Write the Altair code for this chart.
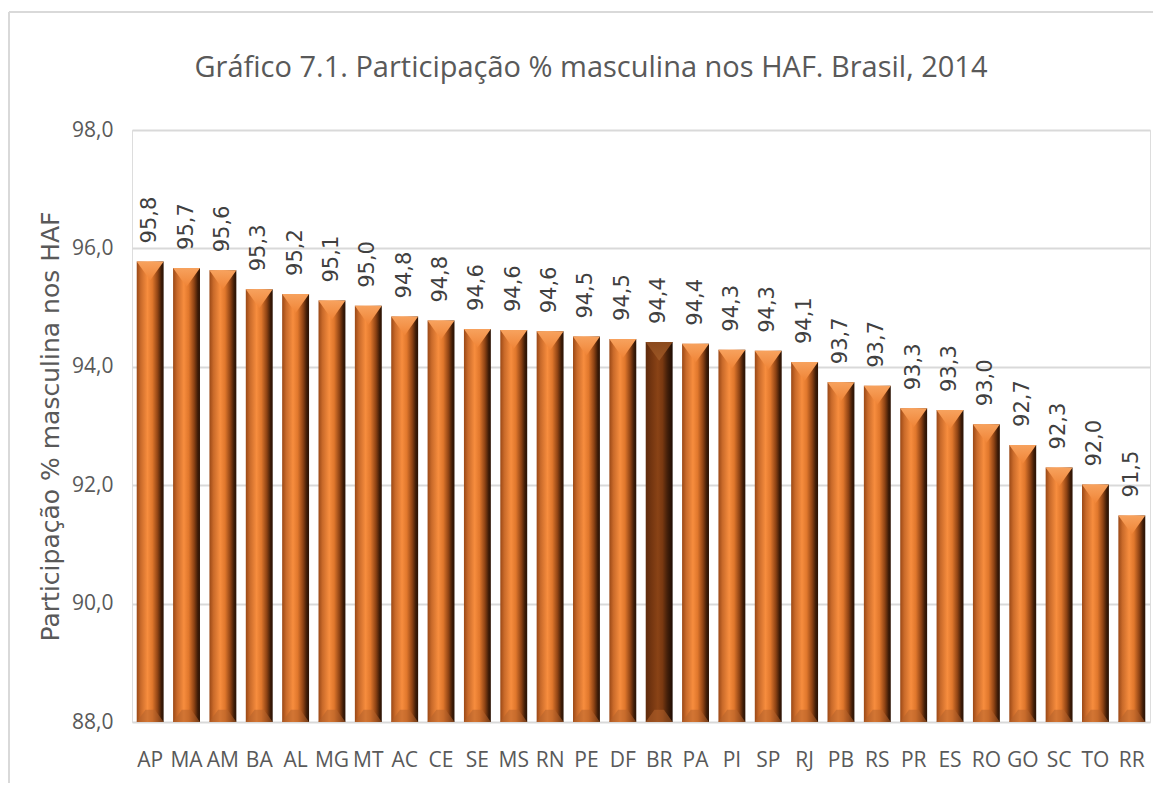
import altair as alt
import pandas as pd

states = ["AP", "MA", "AM", "BA", "AL", "MG", "MT", "AC", "CE", "SE", "MS", "RN", "PE", "DF",
          "BR", "PA", "PI", "SP", "RJ", "PB", "RS", "PR", "ES", "RO", "GO", "SC", "TO", "RR"]
values = [95.78, 95.67, 95.63, 95.31, 95.23, 95.12, 95.03, 94.85, 94.78, 94.64, 94.62, 94.60, 94.51, 94.47,
          94.42, 94.39, 94.29, 94.27, 94.08, 93.74, 93.68, 93.30, 93.27, 93.03, 92.68, 92.30, 92.01, 91.49]
y_ticks = [88, 90, 92, 94, 96, 98]

df = pd.DataFrame({"uf": states, "v": values})
df["base"] = 88.0
df["br"] = df["uf"] == "BR"

title_text = "Gráfico 7.1. Participação % masculina nos HAF. Brasil, 2014"
HUMAN = "Open Sans, Noto Sans, sans-serif"
WIDE = "DejaVu Sans, Verdana, sans-serif"
GREY = "#595959"

grad_norm = alt.Gradient(
    gradient="linear", x1=0, x2=1, y1=0, y2=0,
    stops=[
        alt.GradientStop(offset=0, color="#9a4816"),
        alt.GradientStop(offset=0.15, color="#c96a2a"),
        alt.GradientStop(offset=0.4, color="#f78d3e"),
        alt.GradientStop(offset=0.58, color="#e0772c"),
        alt.GradientStop(offset=0.78, color="#8e4314"),
        alt.GradientStop(offset=0.92, color="#3c1b07"),
        alt.GradientStop(offset=1, color="#2a1204"),
    ],
)
grad_br = alt.Gradient(
    gradient="linear", x1=0, x2=1, y1=0, y2=0,
    stops=[
        alt.GradientStop(offset=0, color="#5e2a0b"),
        alt.GradientStop(offset=0.2, color="#733510"),
        alt.GradientStop(offset=0.45, color="#8a4316"),
        alt.GradientStop(offset=0.62, color="#7a3911"),
        alt.GradientStop(offset=0.8, color="#45200a"),
        alt.GradientStop(offset=1, color="#1c0b03"),
    ],
)
tri_norm = alt.Gradient(
    gradient="linear", x1=0, x2=0, y1=0, y2=1,
    stops=[alt.GradientStop(offset=0, color="#f7a25e"), alt.GradientStop(offset=1, color="#f08436")],
)
tri_br = alt.Gradient(
    gradient="linear", x1=0, x2=0, y1=0, y2=1,
    stops=[alt.GradientStop(offset=0, color="#8a4a1e"), alt.GradientStop(offset=1, color="#9c5624")],
)

x_enc = alt.X("uf:N", sort=states, scale=alt.Scale(domain=states, paddingInner=0.26, paddingOuter=0.13),
              axis=alt.Axis(title=None, labelAngle=0, labelFont=HUMAN, labelFontSize=21,
                            labelColor=GREY, labelPadding=27, ticks=False, domain=False))
y_enc = alt.Y("v:Q", scale=alt.Scale(domain=[88, 98], zero=False, nice=False, clamp=True),
              axis=alt.Axis(values=y_ticks, title="Participação % masculina nos HAF",
                            titleFont=WIDE, titleFontSize=25, titleFontWeight="normal", titleColor=GREY,
                            titlePadding=8,
                            labelExpr="replace(format(datum.value, '.1f'), '.', ',')",
                            labelFont=HUMAN, labelFontSize=21, labelColor=GREY, labelPadding=19,
                            ticks=False, domain=False, grid=True, gridColor="#d9d9d9", gridWidth=2))

base = alt.Chart(df)

bars_n = base.transform_filter("!datum.br").mark_bar(color=grad_norm).encode(
    x=x_enc, y=y_enc, y2="base:Q")
bars_b = base.transform_filter("datum.br").mark_bar(color=grad_br).encode(
    x="uf:N", y="v:Q", y2="base:Q")

tri_shape = "M-1,0L1,0L0,1.4Z"
top_n = base.transform_filter("!datum.br").mark_point(
    shape=tri_shape, filled=True, fill=tri_norm, strokeWidth=0, opacity=1, size=27 * 27).encode(
    x="uf:N", y="v:Q")
top_b = base.transform_filter("datum.br").mark_point(
    shape=tri_shape, filled=True, fill=tri_br, strokeWidth=0, opacity=1, size=27 * 27).encode(
    x="uf:N", y="v:Q")

bot_shape = "M-1,0L1,0L0.35,-0.9L-0.35,-0.9Z"
bottom = base.mark_point(shape=bot_shape, filled=True, fill="#b5632c", strokeWidth=0,
                         opacity=0.55, size=27 * 27).encode(x="uf:N", y="base:Q")

labels = base.transform_calculate(
    lab="replace(format(datum.v, '.1f'), '.', ',')"
).mark_text(angle=270, align="left", baseline="middle", dx=18, font=WIDE, fontSize=21,
            color="#404040").encode(x="uf:N", y="v:Q", text="lab:N")

frame_top = base.mark_rule(color="#d9d9d9", strokeWidth=2).encode(
    x=alt.value(-123), x2=alt.value(1040), y=alt.value(-118))
frame_left = base.mark_rule(color="#d9d9d9", strokeWidth=2).encode(
    x=alt.value(-123), y=alt.value(-118), y2=alt.value(670))

chart = alt.layer(bars_n, bars_b, bottom, top_n, top_b, labels, frame_top, frame_left).properties(
    width=1018, height=592,
    title=alt.TitleParams(title_text, anchor="middle", dx=-50, offset=-72,
                          font=HUMAN, fontSize=29, fontWeight="normal", color=GREY),
    autosize=alt.AutoSizeParams(type="none"),
    padding={"left": 124, "top": 122, "right": 3, "bottom": 61},
).configure_view(stroke=None).configure(background="white")

chart.save("out.html", embed_options={"renderer": "svg", "actions": False})
